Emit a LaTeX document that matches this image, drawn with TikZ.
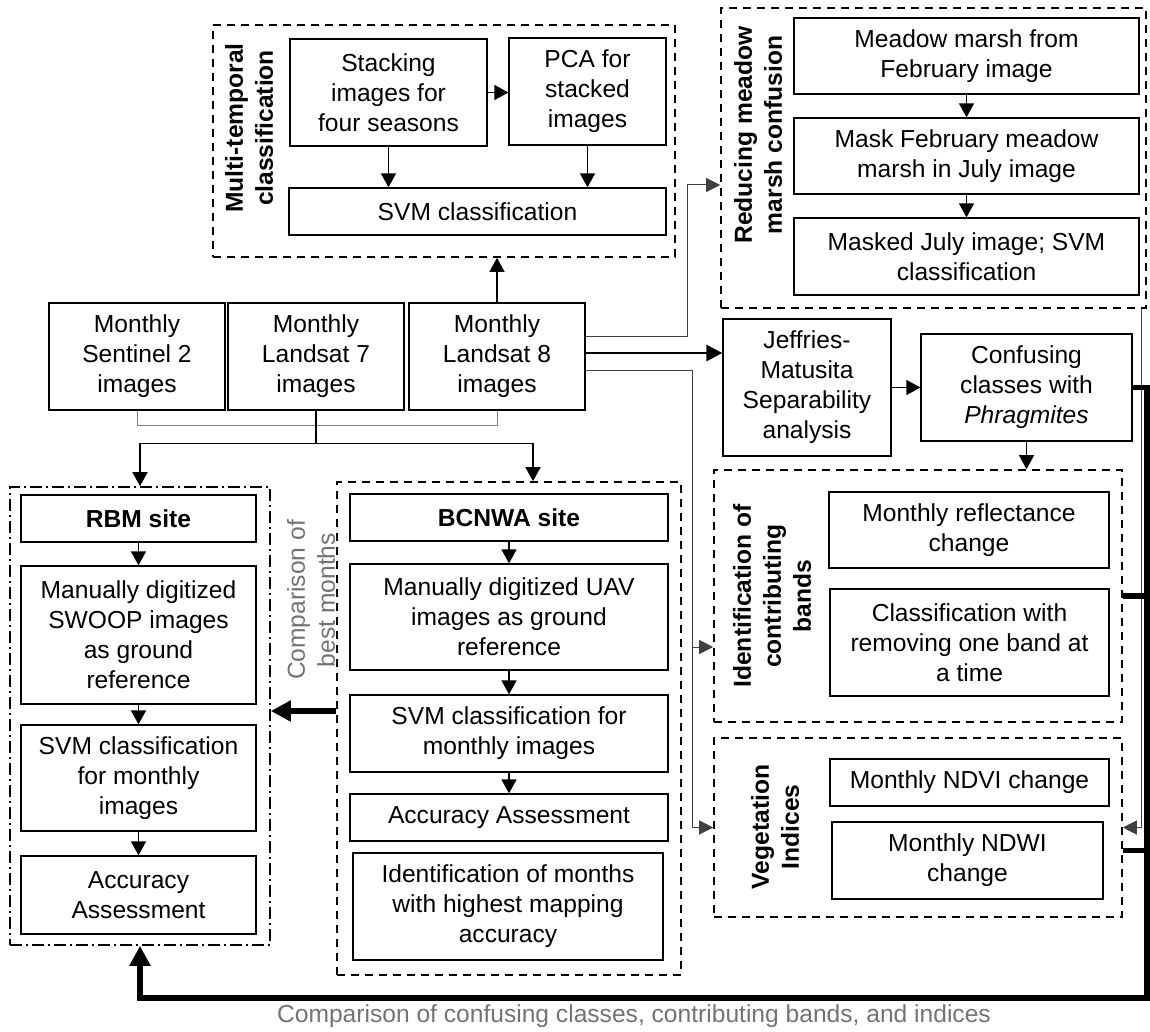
\documentclass[tikz,border=0pt]{standalone}
\usepackage{fontspec}
\setmainfont{Liberation Sans}
\usetikzlibrary{arrows.meta}

\begin{document}
\begin{tikzpicture}[
        x=0.5pt, y=-0.5pt,
        font=\fontsize{12.3pt}{15pt}\selectfont,
        box size/.style 2 args={minimum width=#1*0.5pt, minimum height=#2*0.5pt},
        process box/.style={draw, line width=0.65pt, align=center, inner sep=0pt},
        frame dashed/.style={draw, line width=0.8pt, dash pattern=on 4pt off 3pt},
        frame dashdot/.style={draw, line width=0.8pt, dash pattern=on 6pt off 2pt on 1pt off 2pt},
        frame label/.style={rotate=90, align=center, font=\fontsize{12.3pt}{15pt}\selectfont\bfseries},
        flow/.style={line width=0.75pt, -{Triangle[length=7pt,width=7.5pt]}},
        thin flow/.style={line width=0.5pt, black!75, -{Triangle[length=7pt,width=7pt]}},
        feedback/.style={line width=2.6pt, -{Triangle[length=10pt,width=10pt]}},
        feedback line/.style={line width=2.6pt},
    ]
    \useasboundingbox (0,0) rectangle (1150,1032);

    % Multi-temporal classification
    \node[frame dashed, box size={462}{232}] (multi) at (444,141) {};
    \node[frame label] (multi-label) at (249,128) {Multi-temporal\\classification};
    \node[process box, box size={197}{107}] (stack) at (388.5,92.5) {Stacking\\images for\\four seasons};
    \node[process box, box size={157}{107}] (pca) at (587.5,91.5) {PCA for\\stacked\\images};
    \node[process box, box size={377}{47}] (svm) at (477.5,211.5) {SVM classification};

    % Reducing meadow marsh confusion
    \node[frame dashed, box size={425}{300}] (reduce) at (933.5,158) {};
    \node[frame label] (reduce-label) at (758,135) {Reducing meadow\\marsh confusion};
    \node[process box, box size={345}{76}] (meadow) at (966.5,56) {Meadow marsh from\\February image};
    \node[process box, box size={345}{76}] (mask) at (966.5,156) {Mask February meadow\\marsh in July image};
    \node[process box, box size={345}{77}] (masked) at (966.5,256.5) {Masked July image; SVM\\classification};

    % Monthly input images
    \foreach \name/\x/\sat in {s2/137/Sentinel 2, l7/316/Landsat 7, l8/497/Landsat 8} {
        \node[process box, box size={176}{107}] (\name) at (\x,356.5) {Monthly\\\sat\\images};
    }

    % Separability analysis
    \node[process box, box size={168}{137}] (jm) at (807,387.5) {Jeffries-\\Matusita\\Separability\\analysis};
    \node[process box, box size={211}{107}] (cc) at (1026.5,387.5) {Confusing\\classes with\\\textit{Phragmites}};

    % Identification of contributing bands
    \node[frame dashed, box size={408}{252}] (ident) at (918,596) {};
    \node[frame label] (ident-label) at (772,596) {Identification of\\contributing\\bands};
    \node[process box, box size={280}{76}] (refl) at (969,530) {Monthly reflectance\\change};
    \node[process box, box size={279}{107}] (drop) at (969.5,642.5) {Classification with\\removing one band at\\a time};

    % Vegetation indices
    \node[frame dashed, box size={408}{179}] (veg) at (918,827.5) {};
    \node[frame label] (veg-label) at (775,827) {Vegetation\\Indices};
    \node[process box, box size={279}{47}] (ndvi) at (969.5,782.5) {Monthly NDVI change};
    \node[process box, box size={271}{77}] (ndwi) at (967.5,860.5) {Monthly NDWI\\change};

    % RBM site
    \node[frame dashdot, box size={260}{458}] (rbm) at (140,716) {};
    \node[process box, box size={235}{47}] (rbm-site) at (138.5,518.5) {\textbf{RBM site}};
    \node[process box, box size={235}{138}] (rbm-ref) at (138.5,635) {Manually digitized\\SWOOP images\\as ground\\reference};
    \node[process box, box size={235}{106}] (rbm-svm) at (138.5,778) {SVM classification\\for monthly\\images};
    \node[process box, box size={235}{78}] (rbm-acc) at (138.5,895) {Accuracy\\Assessment};
    \node[frame label, font=\fontsize{12.3pt}{15pt}\selectfont, text=black!55] (best-label) at (311,600) {Comparison of\\best months};

    % BCNWA site
    \node[frame dashed, box size={344}{493}] (bc) at (509,728.5) {};
    \node[process box, box size={318}{47}] (bc-site) at (509,517.5) {\textbf{BCNWA site}};
    \node[process box, box size={318}{106}] (bc-ref) at (509,617) {Manually digitized UAV\\images as ground\\reference};
    \node[process box, box size={318}{77}] (bc-svm) at (509,733.5) {SVM classification for\\monthly images};
    \node[process box, box size={318}{47}] (bc-acc) at (509,817.5) {Accuracy Assessment};
    \node[process box, box size={310}{107}] (bc-best) at (508,906.5) {Identification of months\\with highest mapping\\accuracy};

    \node[text=black!55] (fb-label) at (634,1016) {Comparison of confusing classes, contributing bands, and indices};

    % Vertical chains inside the frames
    \foreach \a/\b in {meadow/mask, mask/masked, rbm-site/rbm-ref, rbm-ref/rbm-svm, rbm-svm/rbm-acc,
                       bc-site/bc-ref, bc-ref/bc-svm, bc-svm/bc-acc} {
        \draw[flow] (\a.south) -- (\b.north);
    }
    \draw[flow] (stack.south) -- (stack.south |- svm.north);
    \draw[flow] (pca.south) -- (pca.south |- svm.north);
    \draw[flow] (stack.east) -- (stack.east -| pca.west);
    \draw[flow] (l8.north) -- (l8.north |- multi.south);
    \draw[flow] (jm.east) -- (cc.west);
    \draw[flow] (cc.south) -- (cc.south |- ident.north);

    % Links out of Landsat 8
    \draw[thin flow] ([yshift=10pt]l8.east) -- ++(102,0) |- ([yshift=-13.5pt]reduce.west);
    \draw[flow, line width=1.4pt, -{Triangle[length=8pt,width=8pt]}] ([yshift=1.75pt]l8.east) -- ([yshift=1.75pt]l8.east -| jm.west);
    \draw[thin flow] ([yshift=-6.75pt]l8.east) -| ([xshift=-10.5pt]veg.west) -- (veg.west);
    \draw[thin flow] ([xshift=-10.5pt,yshift=-25.5pt]ident.west) -- ([yshift=-25.5pt]ident.west);
    \draw[thin flow] ([xshift=-2.5pt]reduce.south east) |- (veg.east);

    % Inputs to the two sites
    \draw[black!50, line width=0.5pt] (s2.south) -- ++(0,15) -| (l8.south);
    \draw[line width=0.6pt] (l7.south) -- ++(0,33) coordinate (fork);
    \draw[flow] (fork) -| (rbm.north);
    \draw[flow] (fork) -| ([xshift=12pt]bc.north);

    % Comparison feedback
    \coordinate (fb) at (1147,998);
    \draw[feedback] (cc.east) -| (fb) -| (rbm.south);
    \draw[feedback line] (ident.east) -- (ident.east -| fb);
    \draw[feedback line] ([yshift=-11.5pt]veg.east) -- ([yshift=-11.5pt]veg.east -| fb);
    \draw[feedback] ([yshift=8.75pt]bc.west) -- ([yshift=8.75pt]bc.west -| rbm.east);

\end{tikzpicture}
\end{document}
